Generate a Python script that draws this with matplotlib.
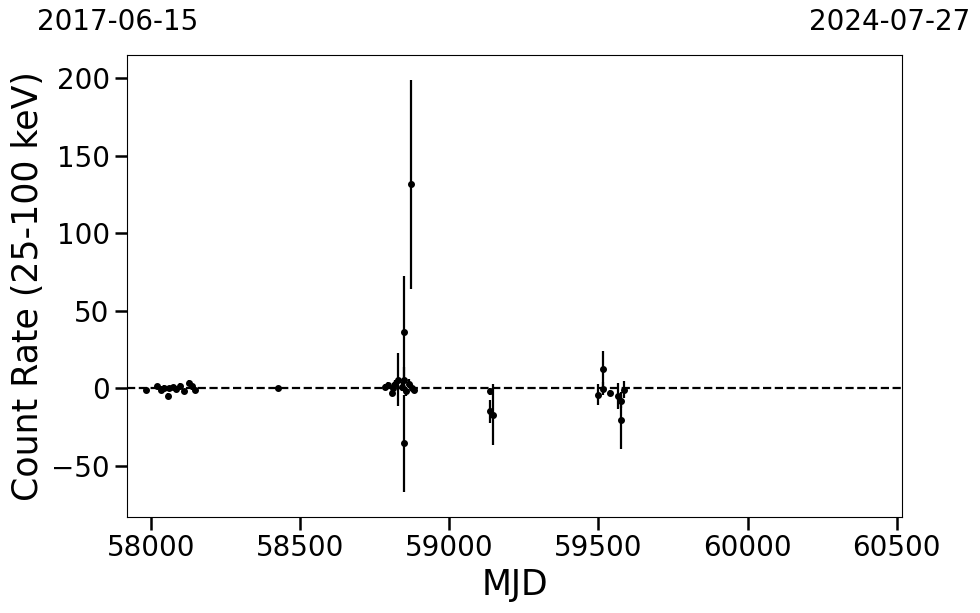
import numpy as np
import matplotlib
matplotlib.use('Agg')
import matplotlib.pyplot as plt

# light curve values
mjd = [57984, 58021, 58033, 58044, 58055, 58060, 58072, 58083, 58098, 58109,
       58128, 58137, 58148, 58425,
       58784, 58795, 58809, 58812, 58817, 58828, 58840, 58848, 58848, 58849,
       58854, 58866, 58871, 58874, 58880,
       59135, 59137, 59148,
       59498, 59515, 59516, 59538, 59565, 59574, 59574, 59585]
rate = [-1.3, 1.5, -0.8, 0.5, -4.8, 0.2, 0.7, -0.5, 1.2, -2.0,
        3.4, 1.2, -1.0, 0.3,
        1.0, 2.0, -2.8, 0.2, 2.5, 5.5, 1.0, 36.6, -35.5, 5.5,
        -2.0, 3.0, 131.5, 0.5, -1.0,
        -2.0, -14.8, -16.9,
        -4.0, 12.7, -0.2, -2.8, -5.0, -8.4, -20.6, -0.9]
rate_err = [1.5, 1.5, 2.0, 1.5, 2.0, 1.5, 1.5, 1.5, 2.0, 1.5,
            2.0, 2.0, 1.5, 1.5,
            2.0, 2.0, 2.0, 3.0, 3.0, 17.0, 3.0, 35.7, 31.4, 8.0,
            3.0, 3.0, 67.5, 2.0, 2.0,
            2.0, 7.3, 19.9,
            6.5, 11.5, 4.0, 1.5, 8.3, 4.0, 18.3, 5.4]

xlim = (57919, 60518)
date_labels = ['2017-06-15', '2024-07-27']

fig = plt.figure(figsize=(9.8, 6.13), dpi=100)
ax = fig.add_axes([0.1296, 0.1566, 0.7908, 0.7537])

ax.errorbar(mjd, rate, yerr=rate_err, fmt='o', color='black', markersize=4,
            elinewidth=1.6, capsize=0)
ax.axhline(0, color='black', linestyle='--', linewidth=1.6)

ax.set_xlim(xlim)
ax.set_ylim(-83, 215)
ax.set_xticks([58000, 58500, 59000, 59500, 60000, 60500])
ax.set_yticks([-50, 0, 50, 100, 150, 200])
ax.tick_params(axis='both', labelsize=20, length=9, width=1.8)
ax.set_xlabel('MJD', fontsize=25)
ax.set_ylabel('Count Rate (25-100 keV)', fontsize=25)

# calendar dates at the two ends of the MJD range
fig.text(118 / 980, 1 - 22 / 613, date_labels[0], fontsize=20, ha='center', va='center')
fig.text(890 / 980, 1 - 22 / 613, date_labels[1], fontsize=20, ha='center', va='center')

fig.savefig('out.png', dpi=100)
